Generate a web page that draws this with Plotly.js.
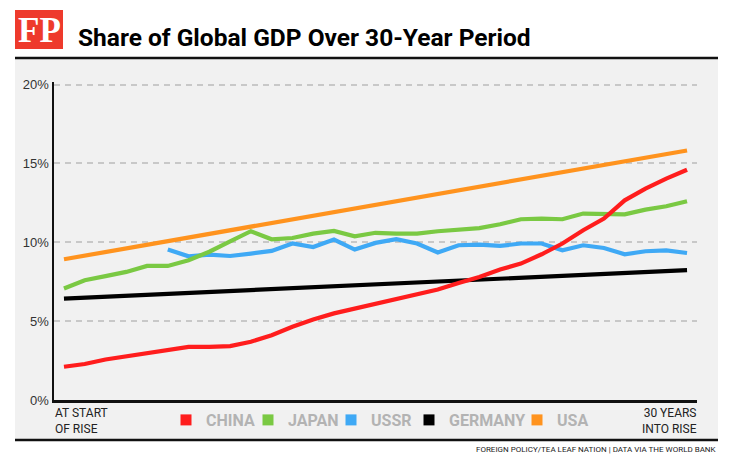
<!DOCTYPE html>
<html>
<head>
<meta charset="utf-8">
<script src="https://cdn.plot.ly/plotly-3.0.1.min.js"></script>
<style>
  html, body { margin: 0; padding: 0; background: #ffffff; }
  #chart { width: 736px; height: 466px; }
</style>
</head>
<body>
<div id="chart"></div>
<script>
// ---- Data (share of global GDP, %, by year since start of rise) ----
const years = [0,1,2,3,4,5,6,7,8,9,10,11,12,13,14,15,16,17,18,19,20,21,22,23,24,25,26,27,28,29,30];
const chinaShare = [2.11,2.28,2.57,2.78,2.95,3.16,3.37,3.37,3.42,3.69,4.11,4.64,5.10,5.49,5.80,6.12,6.43,6.75,7.00,7.42,7.80,8.27,8.65,9.24,9.92,10.76,11.50,12.66,13.40,14.03,14.60];
const japanShare = [7.07,7.59,7.85,8.12,8.50,8.50,8.86,9.40,10.05,10.70,10.19,10.27,10.55,10.72,10.38,10.60,10.55,10.55,10.70,10.82,10.90,11.14,11.46,11.50,11.46,11.82,11.77,11.77,12.07,12.28,12.60];
const ussrYears = [5,6,7,8,9,10,11,12,13,14,15,16,17,18,19,20,21,22,23,24,25,26,27,28,29,30];
const ussrShare = [9.54,9.11,9.22,9.13,9.28,9.45,9.92,9.70,10.17,9.54,9.96,10.19,9.92,9.35,9.81,9.85,9.77,9.92,9.92,9.49,9.81,9.64,9.24,9.43,9.49,9.32];
const germanyYears = [0,30];
const germanyShare = [6.43,8.23];
const usaYears = [0,30];
const usaShare = [8.92,15.82];

const seriesNames = ['CHINA','JAPAN','USSR','GERMANY','USA'];
const seriesColors = ['#ff1d1d','#7ac943','#3fa9f5','#000000','#ff931e'];
const yTicks = [0,5,10,15,20];
const startLabel = 'AT START<br>OF RISE';
const endLabel = '30 YEARS<br>INTO RISE';
const titleText = 'Share of Global GDP Over 30-Year Period';
const sourceText = 'FOREIGN POLICY/TEA LEAF NATION | DATA VIA THE WORLD BANK';

// ---- Layout helpers (pixel -> paper) ----
const M = {l: 54, r: 39, t: 82, b: 66};
const W = 736, H = 466;
const pw = W - M.l - M.r, ph = H - M.t - M.b;
const px = x => (x - M.l) / pw;
const py = y => (H - M.b - y) / ph;

const lineTrace = (x, y, i) => ({
  x: x, y: y, type: 'scatter', mode: 'lines', name: seriesNames[i],
  line: {color: seriesColors[i], width: 4.2, shape: 'linear'},
  showlegend: false, hoverinfo: 'skip'
});

const traces = [
  lineTrace(usaYears, usaShare, 4),
  lineTrace(germanyYears, germanyShare, 3),
  lineTrace(ussrYears, ussrShare, 2),
  lineTrace(years, japanShare, 1),
  lineTrace(years, chinaShare, 0)
];

const legendFont = {family: 'Roboto, Arial, sans-serif', size: 16, color: '#b3b3b3', weight: 'bold'};
const legendLefts = [166, 248, 331, 409, 517];
const legendLayouts = {};
seriesNames.forEach((n, i) => {
  const key = i === 0 ? 'legend' : 'legend' + (i + 1);
  traces.push({
    x: [null], y: [null], type: 'scatter', mode: 'markers', name: n,
    marker: {symbol: 'square', size: 11, color: seriesColors[i]},
    showlegend: true, hoverinfo: 'skip', legend: key
  });
  legendLayouts[key] = {
    x: px(legendLefts[i]), xanchor: 'left',
    y: py(420), yanchor: 'middle',
    bgcolor: 'rgba(0,0,0,0)', borderwidth: 0,
    font: legendFont, itemclick: false, itemdoubleclick: false
  };
});

const layout = Object.assign({
  width: W, height: H,
  margin: M,
  paper_bgcolor: '#ffffff',
  plot_bgcolor: 'rgba(0,0,0,0)',
  showlegend: true,
  title: {
    text: titleText,
    font: {family: 'Roboto, Arial, sans-serif', size: 24.5, color: '#000000', weight: 'bold'},
    xref: 'container', yref: 'container',
    x: 78 / W, xanchor: 'left',
    y: 1 - 37 / H, yanchor: 'middle'
  },
  xaxis: {
    range: [-0.48, 30.48],
    showticklabels: false, ticks: '',
    showgrid: false, zeroline: false,
    showline: true, linecolor: '#111111', linewidth: 2.5
  },
  yaxis: {
    range: [0, 20.16],
    tickmode: 'array', tickvals: yTicks,
    ticktext: yTicks.map(v => v + '%'),
    ticks: '',
    tickfont: {family: 'Liberation Sans, Arial, sans-serif', size: 13, color: '#333333'},
    showgrid: true, gridcolor: '#c8c8c8', gridwidth: 2, griddash: '6px,5px',
    zeroline: false,
    showline: true, linecolor: '#111111', linewidth: 2.5
  },
  shapes: [
    // grey panel
    {type: 'rect', xref: 'paper', yref: 'paper', layer: 'below',
     x0: px(15), x1: px(718), y0: py(440), y1: py(59),
     fillcolor: '#f1f1f1', line: {width: 0}},
    // header rule
    {type: 'line', xref: 'paper', yref: 'paper',
     x0: px(15), x1: px(718), y0: py(58), y1: py(58),
     line: {color: '#111111', width: 2.5}},
    // bottom rule
    {type: 'line', xref: 'paper', yref: 'paper',
     x0: px(15), x1: px(718), y0: py(440), y1: py(440),
     line: {color: '#111111', width: 2.5}},
    // FP logo box
    {type: 'rect', xref: 'paper', yref: 'paper',
     x0: px(15), x1: px(63), y0: py(49), y1: py(10),
     fillcolor: '#ee3a2c', line: {width: 0}}
  ],
  annotations: [
    {text: 'FP', xref: 'paper', yref: 'paper', x: px(39), y: py(31),
     xanchor: 'center', yanchor: 'middle', showarrow: false,
     font: {family: '"Liberation Serif", "DejaVu Serif", serif', size: 35, color: '#ffffff', weight: 'bold'}},
    {text: startLabel, xref: 'paper', yref: 'paper', x: px(53), y: py(404),
     xanchor: 'left', yanchor: 'top', align: 'left', showarrow: false,
     font: {family: 'Roboto, Arial, sans-serif', size: 12, color: '#222222'}},
    {text: endLabel, xref: 'paper', yref: 'paper', x: px(699), y: py(404),
     xanchor: 'right', yanchor: 'top', align: 'right', showarrow: false,
     font: {family: 'Roboto, Arial, sans-serif', size: 12, color: '#222222'}},
    {text: sourceText, xref: 'paper', yref: 'paper', x: px(719), y: py(449),
     xanchor: 'right', yanchor: 'middle', align: 'right', showarrow: false,
     font: {family: 'Roboto, Arial, sans-serif', size: 8, color: '#222222'}}
  ]
}, legendLayouts);

Plotly.newPlot('chart', traces, layout, {staticPlot: true, displayModeBar: false});
</script>
</body>
</html>
